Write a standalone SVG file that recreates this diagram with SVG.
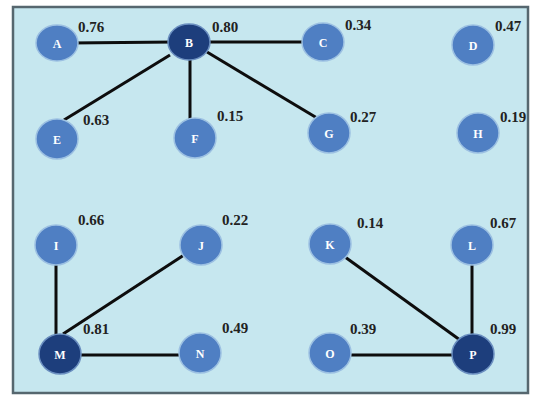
<svg xmlns="http://www.w3.org/2000/svg" width="540" height="398" viewBox="0 0 540 398">
<style>
.n{fill:#4f7fc3;stroke:#9cc0e2;stroke-width:1.5}
.d{fill:#1d3e7c;stroke:#6b8fc0;stroke-width:1.5}
.t{font-family:"Liberation Serif",serif;font-weight:bold;font-size:12px;fill:#ffffff;text-anchor:middle}
.v{font-family:"Liberation Serif",serif;font-weight:bold;font-size:15px;fill:#222222}
#edges line{stroke:#0d0d0d;stroke-width:3}
</style>
<rect x="0" y="0" width="540" height="398" fill="#ffffff"/>
<rect x="13" y="7" width="515" height="386" fill="#c6e7ef" stroke="#56676f" stroke-width="2.5"/>
<g id="edges">
<line x1="70" y1="43" x2="175" y2="42"/>
<line x1="205" y1="42" x2="306" y2="42"/>
<line x1="170" y1="55" x2="64" y2="120"/>
<line x1="190" y1="58" x2="190" y2="120"/>
<line x1="207" y1="52" x2="317" y2="118"/>
<line x1="56" y1="262" x2="56" y2="336"/>
<line x1="184" y1="255" x2="63" y2="334"/>
<line x1="78" y1="355" x2="180" y2="355"/>
<line x1="345" y1="257" x2="460" y2="340"/>
<line x1="472" y1="262" x2="472" y2="338"/>
<line x1="348" y1="355" x2="455" y2="355"/>
</g>
<g id="A"><ellipse class="n" cx="57" cy="43" rx="21" ry="18"/><text class="t" x="57" y="48">A</text><text class="v" x="78" y="32">0.76</text></g>
<g id="B"><ellipse class="d" cx="189" cy="42" rx="21" ry="18"/><text class="t" x="189" y="47">B</text><text class="v" x="212" y="32">0.80</text></g>
<g id="C"><ellipse class="n" cx="323" cy="42" rx="21" ry="19"/><text class="t" x="323" y="47">C</text><text class="v" x="345" y="30">0.34</text></g>
<g id="D"><ellipse class="n" cx="473" cy="45" rx="21" ry="20"/><text class="t" x="473" y="50">D</text><text class="v" x="495" y="31">0.47</text></g>
<g id="E"><ellipse class="n" cx="57" cy="139" rx="21" ry="20"/><text class="t" x="57" y="144">E</text><text class="v" x="83" y="125">0.63</text></g>
<g id="F"><ellipse class="n" cx="195" cy="138" rx="21" ry="20"/><text class="t" x="195" y="143">F</text><text class="v" x="217" y="121">0.15</text></g>
<g id="G"><ellipse class="n" cx="329" cy="133" rx="21" ry="20"/><text class="t" x="329" y="138">G</text><text class="v" x="350" y="122">0.27</text></g>
<g id="H"><ellipse class="n" cx="478" cy="133" rx="21" ry="20"/><text class="t" x="478" y="138">H</text><text class="v" x="500" y="122">0.19</text></g>
<g id="I"><ellipse class="n" cx="56" cy="245" rx="21" ry="20"/><text class="t" x="56" y="250">I</text><text class="v" x="78" y="225">0.66</text></g>
<g id="J"><ellipse class="n" cx="201" cy="245" rx="21" ry="20"/><text class="t" x="201" y="250">J</text><text class="v" x="222" y="225">0.22</text></g>
<g id="K"><ellipse class="n" cx="330" cy="244" rx="21" ry="20"/><text class="t" x="330" y="249">K</text><text class="v" x="357" y="228">0.14</text></g>
<g id="L"><ellipse class="n" cx="472" cy="245" rx="21" ry="20"/><text class="t" x="472" y="250">L</text><text class="v" x="490" y="228">0.67</text></g>
<g id="M"><ellipse class="d" cx="60" cy="354" rx="21" ry="20"/><text class="t" x="60" y="359">M</text><text class="v" x="83" y="334">0.81</text></g>
<g id="N"><ellipse class="n" cx="200" cy="353" rx="21" ry="20"/><text class="t" x="200" y="358">N</text><text class="v" x="222" y="333">0.49</text></g>
<g id="O"><ellipse class="n" cx="330" cy="353" rx="21" ry="20"/><text class="t" x="330" y="358">O</text><text class="v" x="350" y="334">0.39</text></g>
<g id="P"><ellipse class="d" cx="473" cy="354" rx="21" ry="20"/><text class="t" x="473" y="359">P</text><text class="v" x="490" y="334">0.99</text></g>
</svg>
